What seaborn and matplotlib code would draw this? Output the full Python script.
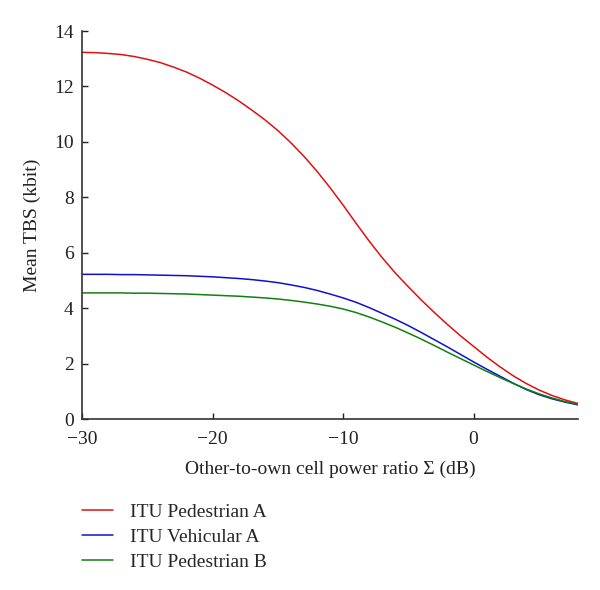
import numpy as np
import pandas as pd
import matplotlib
matplotlib.use("Agg")
import matplotlib.pyplot as plt
import seaborn as sns

# Data
x_db = list(range(-30, 9))
ped_a = [13.23, 13.22, 13.19, 13.15, 13.08, 12.98, 12.86, 12.70, 12.52, 12.30,
         12.05, 11.78, 11.48, 11.15, 10.80, 10.41, 9.97, 9.48, 8.94, 8.35,
         7.72, 7.06, 6.42, 5.82, 5.27, 4.77, 4.29, 3.84, 3.41, 3.00,
         2.62, 2.24, 1.89, 1.57, 1.29, 1.05, 0.85, 0.69, 0.56]
veh_a = [5.22, 5.22, 5.22, 5.21, 5.21, 5.20, 5.19, 5.18, 5.17, 5.15,
         5.13, 5.10, 5.07, 5.03, 4.98, 4.92, 4.84, 4.75, 4.64, 4.51,
         4.37, 4.21, 4.02, 3.81, 3.60, 3.37, 3.12, 2.86, 2.60, 2.33,
         2.06, 1.80, 1.55, 1.30, 1.07, 0.88, 0.73, 0.61, 0.51]
ped_b = [4.55, 4.55, 4.55, 4.55, 4.54, 4.54, 4.53, 4.52, 4.51, 4.49,
         4.47, 4.45, 4.43, 4.40, 4.37, 4.33, 4.28, 4.22, 4.15, 4.07,
         3.97, 3.84, 3.68, 3.50, 3.31, 3.10, 2.88, 2.65, 2.41, 2.18,
         1.95, 1.72, 1.50, 1.29, 1.09, 0.91, 0.76, 0.63, 0.53]
series_names = ["ITU Pedestrian A", "ITU Vehicular A", "ITU Pedestrian B"]
colors = ["#e01010", "#1010d0", "#108010"]
x_ticks = [-30, -20, -10, 0]
x_tick_labels = ["\u221230", "\u221220", "\u221210", "0"]
y_ticks = [0, 2, 4, 6, 8, 10, 12, 14]

df = pd.DataFrame({
    "x": x_db * 3,
    "y": ped_a + veh_a + ped_b,
    "series": sum([[n] * len(x_db) for n in series_names], []),
})

sns.set_style("ticks")
plt.rcParams["font.family"] = ["Liberation Serif", "DejaVu Serif"]

fig = plt.figure(figsize=(6.0, 5.9), dpi=100)
ax = fig.add_axes([82 / 600, 1 - 419 / 590, 496 / 600, 388 / 590])

sns.lineplot(data=df, x="x", y="y", hue="series", palette=colors,
             hue_order=series_names, linewidth=1.1, ax=ax, legend=True)

ax.set_xlim(-30, 8)
ax.set_ylim(0, 14)
ax.set_xticks(x_ticks)
ax.set_yticks(y_ticks)
ax.set_xticklabels(x_tick_labels)
ax.tick_params(direction="in", length=4, width=1.0, labelsize=14,
               colors="#222222")
ax.tick_params(axis="x", pad=9)
ax.tick_params(axis="y", pad=6)
for s in ["top", "right"]:
    ax.spines[s].set_visible(False)
for s in ["left", "bottom"]:
    ax.spines[s].set_linewidth(1.2)
    ax.spines[s].set_color("#333333")

ax.set_xlabel("Other-to-own cell power ratio \u03a3 (dB)", fontsize=14,
              color="#222222", labelpad=9)
ax.set_ylabel("Mean TBS (kbit)", fontsize=14, color="#222222", labelpad=9)

handles, labels = ax.get_legend_handles_labels()
ax.legend(handles, labels, loc="upper left",
          bbox_to_anchor=(82 / 600, 1 - 503 / 590),
          bbox_transform=fig.transFigure, frameon=False, fontsize=14,
          handlelength=1.6, handletextpad=0.85, labelspacing=0.38,
          borderpad=0, borderaxespad=0)

fig.savefig("out.png", dpi=100)
